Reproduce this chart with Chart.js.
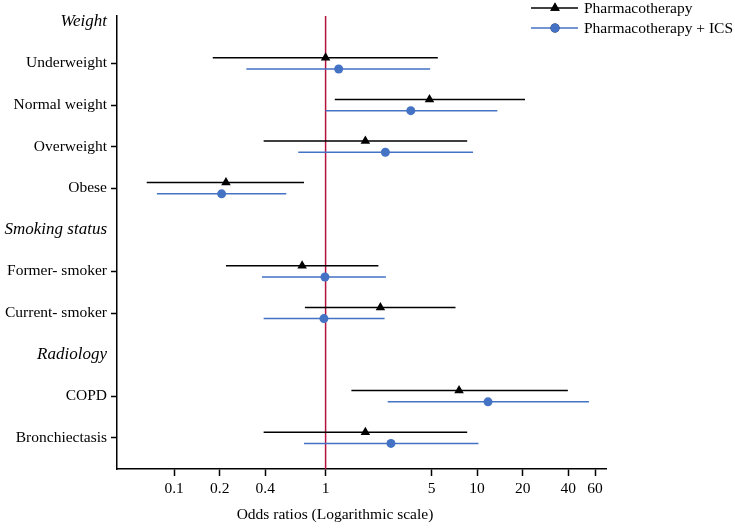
<!DOCTYPE html>
<html>
<head>
<meta charset="utf-8">
<script src="https://cdn.jsdelivr.net/npm/chart.js@4.4.1/dist/chart.umd.min.js"></script>
<style>
  html, body { margin: 0; padding: 0; background: #fff; }
  #wrap { width: 735px; height: 528px; }
</style>
</head>
<body>
<div id="wrap"><canvas id="forest" width="735" height="528"></canvas></div>
<script>
// Rows on the y axis, top to bottom (headers are printed in italics)
var rowLabels = ["Weight", "Underweight", "Normal weight", "Overweight", "Obese",
  "Smoking status", "Former- smoker", "Current- smoker",
  "Radiology", "COPD", "Bronchiectasis"];
var headerRows = ["Weight", "Smoking status", "Radiology"];

// Variables that carry an estimate
var variables = ["Underweight", "Normal weight", "Overweight", "Obese",
  "Former- smoker", "Current- smoker", "COPD", "Bronchiectasis"];

// Pharmacotherapy: odds ratio and 95% CI
var pharmOR   = [1.0, 4.85, 1.83, 0.22, 0.70, 2.30, 7.6, 1.83];
var pharmLow  = [0.18, 1.15, 0.39, 0.066, 0.22, 0.73, 1.48, 0.39];
var pharmHigh = [5.5, 20.7, 8.6, 0.72, 2.23, 7.2, 39.7, 8.6];

// Pharmacotherapy + ICS: odds ratio and 95% CI
var icsOR   = [1.22, 3.65, 2.48, 0.206, 0.99, 0.975, 11.8, 2.70];
var icsLow  = [0.30, 1.0, 0.66, 0.077, 0.38, 0.39, 2.57, 0.72];
var icsHigh = [4.9, 13.6, 9.4, 0.55, 2.5, 2.45, 54.7, 10.2];

// x axis tick values
var xTicks = [0.1, 0.2, 0.4, 1, 5, 10, 20, 40, 60];

var BLACK = "#000000";
var BLUE = "#4472C4";
var RED = "#B5123E";
var FONT = "'Liberation Serif', 'Times New Roman', serif";
var FSIZE = 15.5;

// build points for one series: a CI segment per row (null gap between), and the estimate
function ciSegments(lo, hi, shift) {
  var pts = [];
  variables.forEach(function(v, i) {
    var row = rowLabels.indexOf(v) + shift;
    pts.push({x: lo[i], y: row}, {x: hi[i], y: row}, {x: null, y: null});
  });
  return pts;
}
function estimates(or, shift) {
  return variables.map(function(v, i) {
    return {x: or[i], y: rowLabels.indexOf(v) + shift};
  });
}

var Y_MIN = -0.14, Y_MAX = 10.75;

// legend drawn by hand: line with the marker through its middle
var legendPlugin = {
  id: "lineLegend",
  afterDraw: function(chart) {
    var c = chart.ctx;
    var items = [
      {label: "Pharmacotherapy", color: BLACK, style: "triangle", y: 8},
      {label: "Pharmacotherapy + ICS", color: BLUE, style: "circle", y: 28}
    ];
    c.save();
    items.forEach(function(it) {
      c.strokeStyle = it.color;
      c.lineWidth = 1.5;
      c.beginPath();
      c.moveTo(531, it.y);
      c.lineTo(578, it.y);
      c.stroke();
      Chart.helpers.drawPoint(c, {pointStyle: it.style, radius: it.style === "circle" ? 4.5 : 5.5,
        borderWidth: 0, rotation: 0}, 555, it.y);
      c.fillStyle = it.color;
      c.fill();
      c.fillStyle = "#000";
      c.font = FSIZE + "px " + FONT;
      c.textBaseline = "middle";
      c.fillText(it.label, 584, it.y + 1);
    });
    // axis title
    c.textAlign = "center";
    c.fillText("Odds ratios (Logarithmic scale)", 335, 515);
    c.restore();
  }
};

var ctx = document.getElementById("forest").getContext("2d");

var fChart = new Chart(ctx, {
  type: "line",
  data: {
    datasets: [
      {
        label: "Pharmacotherapy",
        data: estimates(pharmOR, -0.135),
        showLine: false,
        pointStyle: "triangle",
        pointRadius: 5.5,
        backgroundColor: BLACK,
        borderColor: BLACK,
        borderWidth: 0,
        order: 1
      },
      {
        label: "Pharmacotherapy + ICS",
        data: estimates(icsOR, 0.135),
        showLine: false,
        pointStyle: "circle",
        pointRadius: 4.5,
        backgroundColor: BLUE,
        borderColor: BLUE,
        borderWidth: 0,
        order: 1
      },
      {
        label: "pharm CI",
        data: ciSegments(pharmLow, pharmHigh, -0.135),
        borderColor: BLACK,
        borderWidth: 1.5,
        pointRadius: 0,
        spanGaps: false,
        order: 5
      },
      {
        label: "ics CI",
        data: ciSegments(icsLow, icsHigh, 0.135),
        borderColor: BLUE,
        borderWidth: 1.5,
        pointRadius: 0,
        spanGaps: false,
        order: 5
      },
      {
        label: "no effect",
        data: [{x: 1, y: Y_MIN}, {x: 1, y: Y_MAX}],
        borderColor: RED,
        borderWidth: 1.5,
        pointRadius: 0,
        order: 10
      }
    ]
  },
  options: {
    responsive: false,
    animation: false,
    layout: {padding: {top: 16, right: 129, left: 0, bottom: 0}},
    plugins: {
      legend: {display: false},
      tooltip: {enabled: false}
    },
    scales: {
      x: {
        type: "logarithmic",
        min: 0.042,
        max: 70.9,
        afterBuildTicks: function(scale) {
          scale.ticks = xTicks.map(function(v) { return {value: v}; });
        },
        afterFit: function(scale) { scale.height = 59; },
        grid: {drawOnChartArea: false, tickLength: 7, tickColor: BLACK, tickWidth: 1.5},
        border: {color: BLACK, width: 1.5},
        ticks: {
          color: BLACK,
          padding: 4,
          maxRotation: 0,
          autoSkip: false,
          font: {family: FONT, size: FSIZE},
          callback: function(v) { return String(v); }
        }
      },
      y: {
        type: "linear",
        reverse: true,
        min: Y_MIN,
        max: Y_MAX,
        afterBuildTicks: function(scale) {
          scale.ticks = rowLabels.map(function(l, i) { return {value: i}; });
        },
        afterFit: function(scale) { scale.width = 117; },
        grid: {
          drawOnChartArea: false,
          tickLength: 6,
          tickWidth: 1.5,
          tickColor: function(c) {
            return c.tick && headerRows.indexOf(rowLabels[c.tick.value]) >= 0 ? "rgba(0,0,0,0)" : BLACK;
          }
        },
        border: {color: BLACK, width: 1.5},
        ticks: {
          color: BLACK,
          padding: 4,
          autoSkip: false,
          font: function(c) {
            var head = c.tick && headerRows.indexOf(rowLabels[c.tick.value]) >= 0;
            return head ? {family: FONT, size: 17, style: "italic"} : {family: FONT, size: FSIZE};
          },
          callback: function(v) { return rowLabels[v]; }
        }
      }
    }
  },
  plugins: [legendPlugin]
});
</script>
</body>
</html>
